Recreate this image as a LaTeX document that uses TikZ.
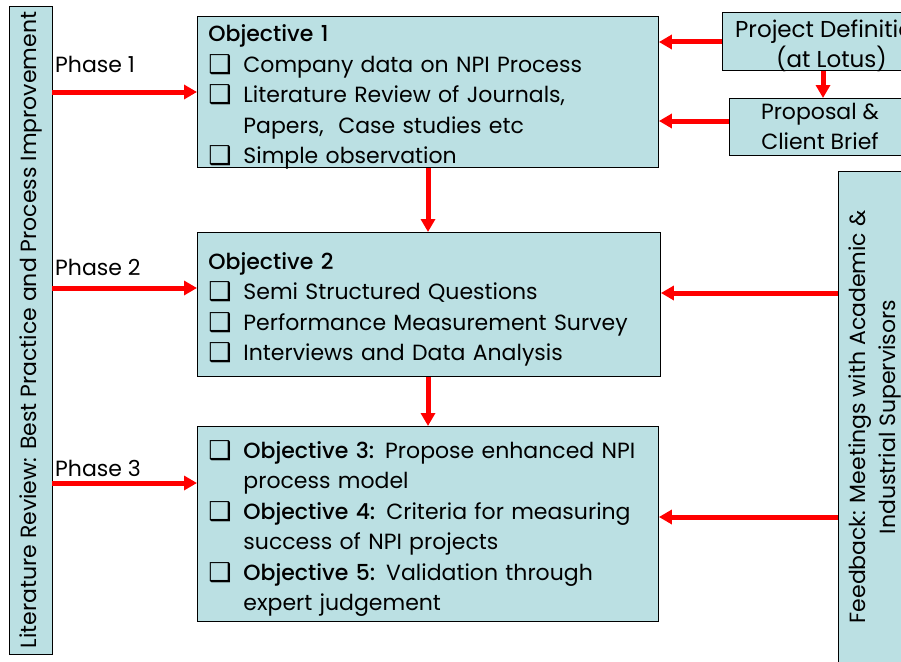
\documentclass[tikz,border=0pt]{standalone}
\usepackage{fontspec}
\setmainfont{Poppins}[BoldFont={Poppins Medium}]
\newfontfamily\symfont{DejaVu Sans}
\usetikzlibrary{arrows.meta}
\definecolor{boxfill}{RGB}{187,224,227}
\definecolor{flowred}{RGB}{255,0,0}
% drop-shadow check box used as list bullet
\newcommand\cbx{\makebox[35pt][l]{\symfont\fontsize{26}{26}\selectfont\raisebox{-1pt}{❑}}}
\newcommand\cont{\hspace*{35pt}}
% taller first line pushes the centred list down a little
\newcommand\firstline{\rule{0pt}{27pt}}
\begin{document}
\begin{tikzpicture}[x=1pt,y=-1pt,
  box/.style={draw=black, fill=boxfill, line width=0.9pt, inner sep=0pt},
  listbox/.style={box, anchor=north west, align=left, inner xsep=11pt,
    inner ysep=-8pt, font=\fontsize{22}{30.5}\selectfont},
  plain/.style={box, align=center, inner ysep=-8pt, font=\fontsize{22}{30}\selectfont},
  flow/.style={draw=flowred, line width=5pt,
    -{Triangle[length=13pt,width=14pt]}},
  phase/.style={anchor=west, inner sep=0pt, font=\fontsize{22}{22}\selectfont}]
\useasboundingbox (0,0) rectangle (901,661);
\clip (0,0) rectangle (901,661);

% side bars
\node[box, rotate=90, minimum width=648pt, minimum height=43pt,
  font=\fontsize{22}{22}\selectfont] (lit) at (30.5,330)
  {Literature Review: Best Practice and Process Improvement};
\node[box, rotate=90, minimum width=492pt, minimum height=74pt, align=center,
  font=\fontsize{22}{30}\selectfont] (fb) at (875,417)
  {Feedback: Meetings with Academic \&\\Industrial Supervisors};

% objective boxes
\node[listbox, minimum width=461pt, minimum height=151pt, text width=439pt] (o1) at (197,16)
  {\firstline\textbf{Objective 1}\\
   \cbx Company data on NPI Process\\
   \cbx Literature Review of Journals,\\
   \cont Papers,\ \ Case studies etc\\
   \cbx Simple observation};
\node[listbox, minimum width=463pt, minimum height=144pt, text width=441pt] (o2) at (197,232)
  {\firstline\textbf{Objective 2}\\
   \cbx Semi Structured Questions\\
   \cbx Performance Measurement Survey\\
   \cbx Interviews and Data Analysis};
\node[listbox, minimum width=461pt, minimum height=195pt, text width=439pt] (o3) at (197,426)
  {\firstline\cbx\textbf{Objective 3:} Propose enhanced NPI\\
   \cont process model\\
   \cbx\textbf{Objective 4:} Criteria for measuring\\
   \cont success of NPI projects\\
   \cbx\textbf{Objective 5:} Validation through\\
   \cont expert judgement};

% inputs at the top right
\node[plain, anchor=north west, minimum width=218pt, minimum height=58pt,
  font=\fontsize{23}{30}\selectfont] (pd) at (722,12)
  {\firstline Project Definition\\(at Lotus)};
\node[plain, anchor=north west, minimum width=181pt, minimum height=57pt] (pc) at (729,98)
  {Proposal \&\\Client Brief};

% phase labels
\node[phase] (ph1) at (55,64) {Phase 1};
\node[phase] (ph2) at (55,267) {Phase 2};
\node[phase] (ph3) at (55,468) {Phase 3};

% flows
\draw[flow] (lit.south |- 0,92) -- (o1.west |- 0,92);
\draw[flow] (lit.south |- 0,288) -- (o2.west |- 0,288);
\draw[flow] (lit.south |- 0,483) -- (o3.west |- 0,483);
\draw[flow] (o1.south -| 428,0) -- (o2.north -| 428,0);
\draw[flow] (o2.south -| 428,0) -- (o3.north -| 428,0);
\draw[flow] (pd.west |- 0,42) -- (o1.east |- 0,42);
\draw[flow] (pc.west |- 0,121) -- (o1.east |- 0,121);
\draw[flow] (pd.south -| 823,0) -- (pc.north -| 823,0);
\draw[flow] (fb.north |- 0,293) -- (o2.east |- 0,293);
\draw[flow] (fb.north |- 0,517) -- (o3.east |- 0,517);
\end{tikzpicture}
\end{document}
